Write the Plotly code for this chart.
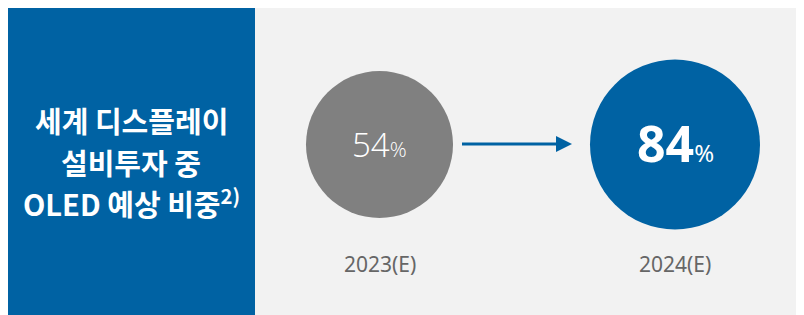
import plotly.graph_objects as go

# ---- data ----
years = ["2023(E)", "2024(E)"]
shares = [54, 84]
title_lines = ["세계 디스플레이", "설비투자 중", "OLED 예상 비중"]
footnote = "2)"

# ---- layout constants (pixels) ----
W, H = 804, 315
OFF = 8  # page body margin offset
cx = [379.5, 675]
cy = 144.5
diam = [147, 170]
circle_colors = ["#808080", "#0062A3"]
BLUE = "#0062A3"
BG = "#F2F2F2"
title_y = [120, 162, 202]

fig = go.Figure()

fig.add_trace(go.Scatter(
    x=cx, y=[cy, cy], mode="markers",
    marker=dict(size=diam, color=circle_colors, opacity=1, line=dict(width=0)),
    hoverinfo="skip", showlegend=False,
))

shapes = [
    dict(type="rect", xref="x", yref="y", x0=255, x1=W + 20, y0=6, y1=H + 20,
         fillcolor=BG, line=dict(width=0), layer="below"),
    dict(type="rect", xref="x", yref="y", x0=7, x1=255, y0=6, y1=H + 20,
         fillcolor=BLUE, line=dict(width=0), layer="below"),
    dict(type="line", xref="x", yref="y", x0=462, x1=558, y0=144, y1=144,
         line=dict(color=BLUE, width=3)),
    dict(type="path", xref="x", yref="y",
         path="M 556 136 L 572 144 L 556 152 Z",
         fillcolor=BLUE, line=dict(width=0)),
]

annotations = []
for i, (line, ty) in enumerate(zip(title_lines, title_y)):
    txt = line + (f"<sup>{footnote}</sup>" if i == len(title_lines) - 1 else "")
    annotations.append(dict(
        x=131, y=ty, xref="x", yref="y", text="<b>" + txt + "</b>",
        showarrow=False, align="center",
        font=dict(family="Noto Sans CJK KR", size=29, color="white"),
    ))
annotations.append(dict(
    x=cx[0], y=cy, xref="x", yref="y",
    text=f"{shares[0]}<span style='font-size:21px'>%</span>",
    showarrow=False,
    font=dict(family="Open Sans", size=33, color="white", weight=300),
))
annotations.append(dict(
    x=cx[1], y=cy - 2, xref="x", yref="y",
    text=f"<b>{shares[1]}</b><span style='font-size:24px'>%</span>",
    showarrow=False,
    font=dict(family="Noto Sans", size=50, color="white"),
))
for x, yr in zip(cx, years):
    annotations.append(dict(
        x=x, y=264, xref="x", yref="y", text=yr, showarrow=False,
        font=dict(family="Noto Sans", size=21, color="#666666"),
    ))

fig.update_layout(
    width=W, height=H,
    margin=dict(l=0, r=0, t=0, b=0),
    paper_bgcolor="white", plot_bgcolor="white",
    xaxis=dict(range=[OFF, W + OFF], visible=False, fixedrange=True),
    yaxis=dict(range=[H + OFF, OFF], visible=False, fixedrange=True),
    shapes=shapes, annotations=annotations,
)

fig.write_html("out.html")
